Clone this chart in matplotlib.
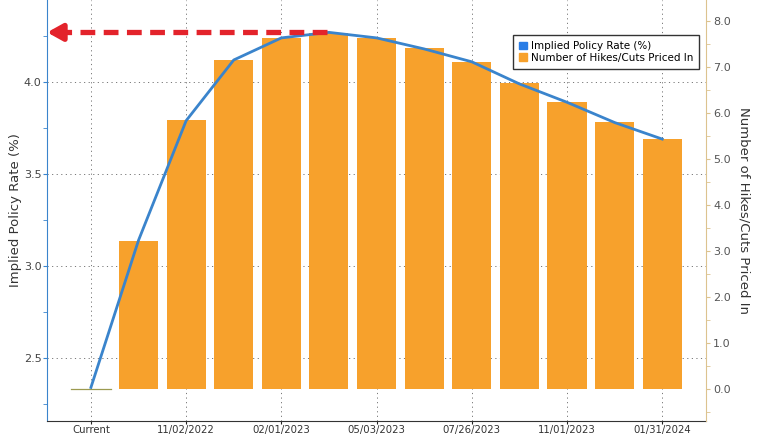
import matplotlib.pyplot as plt
from matplotlib.patches import Patch
import numpy as np

# Datos
fechas = ['Current', '', '11/02/2022', '', '02/01/2023', '', '05/03/2023', '',
          '07/26/2023', '', '11/01/2023', '', '01/31/2024']
tasa_implicita = [2.34, 3.14, 3.79, 4.12, 4.24, 4.27, 4.24, 4.18, 4.11, 3.99, 3.89, 3.78, 3.69]
subas_descontadas = [0.0, 3.22, 5.85, 7.15, 7.63, 7.74, 7.63, 7.41, 7.11, 6.65, 6.24, 5.80, 5.43]

color_linea = '#3a84cc'
color_barra = '#f7a12c'
color_der = '#dcc38f'
color_flecha = '#e3232b'

x = np.arange(len(fechas))

fig = plt.figure(figsize=(7.6, 4.36), dpi=100)
pos = [0.062, 0.035, 0.867, 0.965]
ax1 = fig.add_axes(pos)
ax2 = ax1.twinx()
ax3 = fig.add_axes(pos, sharex=ax1, sharey=ax1)
ax3.axis('off')

# eje izquierdo (tasa)
ax1.set_xlim(-0.92, 12.92)
ax1.set_ylim(2.159, 4.446)
ax1.set_yticks([2.5, 3.0, 3.5, 4.0])
ax1.set_yticks([2.25, 2.75, 3.25, 3.75, 4.25], minor=True)
ax1.set_xticks(x[::2])
ax1.set_xticklabels([f for f in fechas if f != ''], fontsize=7.3, color='#333333')
ax1.tick_params(axis='x', length=2.5, pad=0.5, color='#222222')
ax1.tick_params(axis='y', which='both', colors=color_linea, length=3, labelsize=8,
                labelcolor='#444444', pad=1)
ax1.grid(True, which='major', linestyle=(0, (1.2, 3.5)), color='#777777', linewidth=0.7)
ax1.spines['top'].set_visible(False)
ax1.spines['right'].set_visible(False)
ax1.spines['left'].set_color(color_linea)
ax1.spines['bottom'].set_color('#333333')
ax1.set_ylabel('Implied Policy Rate (%)', fontsize=9.5, color='#333333', labelpad=1)

# eje derecho (barras)
ax2.bar(x, subas_descontadas, width=0.82, color=color_barra, linewidth=0.0)
ax2.plot([x[0] - 0.42, x[0] + 0.42], [subas_descontadas[0]] * 2, color='#9c9a50', lw=0.9)
ax2.set_ylim(-0.689, 8.457)
ax2.set_yticks(np.arange(0, 8.1, 1.0))
ax2.set_yticklabels([f'{v:.1f}' for v in np.arange(0, 8.1, 1.0)])
ax2.set_yticks(np.arange(-0.5, 8.1, 1.0), minor=True)
ax2.tick_params(axis='y', which='both', colors=color_der, length=3, labelsize=8,
                labelcolor='#555555', pad=2)
ax2.spines['top'].set_visible(False)
ax2.spines['left'].set_visible(False)
ax2.spines['bottom'].set_visible(False)
ax2.spines['right'].set_color(color_der)
ax2.set_ylabel('Number of Hikes/Cuts Priced In', fontsize=9.5, color='#333333',
               rotation=270, labelpad=14)

# linea de tasa y flecha punteada hacia el eje
ax3.plot(x, tasa_implicita, color=color_linea, linewidth=2)
pico = int(np.argmax(tasa_implicita))
y_pico = tasa_implicita[pico]
ax3.plot([x[pico] - 0.05, -0.55], [y_pico, y_pico], color=color_flecha, lw=3.8,
         linestyle=(0, (2.8, 1.6)), solid_capstyle='butt', clip_on=False)
ax3.annotate('', xy=(-0.92, y_pico), xytext=(-0.55, y_pico),
             arrowprops=dict(arrowstyle='-|>,head_length=0.9,head_width=0.5',
                             color=color_flecha, lw=3.8, shrinkA=0, shrinkB=0),
             annotation_clip=False)

handles = [Patch(color='#2a7de6', label='Implied Policy Rate (%)'),
           Patch(color=color_barra, label='Number of Hikes/Cuts Priced In')]
fig.legend(handles=handles, loc='upper left', bbox_to_anchor=(0.668, 0.932),
           fontsize=7.5, frameon=True, fancybox=False, edgecolor='#333333',
           handlelength=0.8, handleheight=0.8, handletextpad=0.3,
           borderpad=0.6, labelspacing=0.15, framealpha=1)

plt.savefig('out.png', dpi=100)
